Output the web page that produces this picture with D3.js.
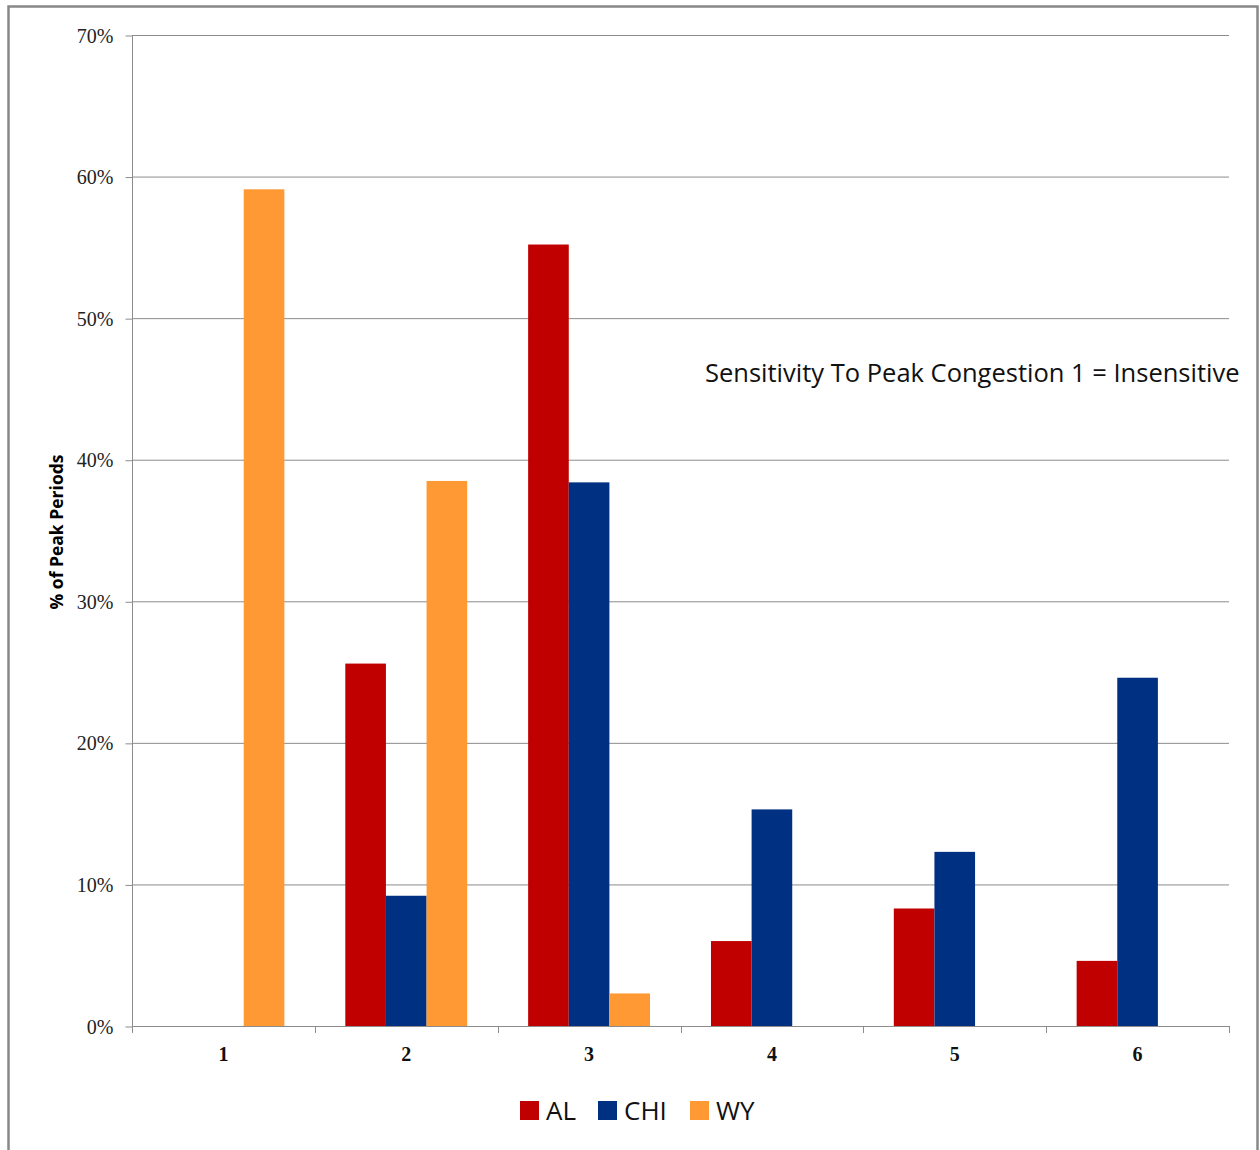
<!DOCTYPE html>
<html>
<head>
<meta charset="utf-8">
<script src="https://cdn.jsdelivr.net/npm/d3@7"></script>
<style>
  html, body { margin: 0; padding: 0; background: #fff; }
  svg { display: block; }
</style>
</head>
<body>
<svg id="chart" width="1260" height="1150"></svg>
<script>
// Sensitivity levels (1 = insensitive) and share of peak periods per region
const categories = ["1", "2", "3", "4", "5", "6"];
const seriesNames = ["AL", "CHI", "WY"];
const alValues  = [0,    25.6, 55.2, 6.0,  8.3,  4.6];
const chiValues = [0,    9.2,  38.4, 15.3, 12.3, 24.6];
const wyValues  = [59.1, 38.5, 2.3,  0,    0,    0];
const yTicks = [0, 10, 20, 30, 40, 50, 60, 70];
const seriesColors = ["#C00000", "#003082", "#FF9933"];

const seriesValues = [alValues, chiValues, wyValues];

const svg = d3.select("#chart");

// Outer frame
svg.append("rect")
  .attr("x", 8.5).attr("y", 6.5)
  .attr("width", 1249).attr("height", 1160)
  .attr("fill", "#fff")
  .attr("stroke", "#888").attr("stroke-width", 2.5);

const plot = { left: 132, right: 1229, top: 35, bottom: 1026 };

const x = d3.scaleBand()
  .domain(categories)
  .range([plot.left, plot.right])
  .paddingInner(0).paddingOuter(0);

const y = d3.scaleLinear()
  .domain([0, 70])
  .range([plot.bottom, plot.top]);

// Horizontal gridlines
svg.append("g")
  .selectAll("line")
  .data(yTicks.filter(t => t > 0))
  .join("line")
  .attr("x1", plot.left).attr("x2", plot.right)
  .attr("y1", d => y(d) + 0.5).attr("y2", d => y(d) + 0.5)
  .attr("stroke", "#8c8c8c").attr("stroke-width", 1);

// Bars: 3 per category, Excel-style 150% gap
const barW = x.bandwidth() / 4.5;
const groups = svg.append("g");
categories.forEach((c, ci) => {
  const center = x(c) + x.bandwidth() / 2;
  seriesValues.forEach((vals, si) => {
    const v = vals[ci];
    if (v <= 0) return;
    groups.append("rect")
      .attr("x", center - 1.5 * barW + si * barW)
      .attr("y", y(v))
      .attr("width", barW)
      .attr("height", y(0) - y(v))
      .attr("fill", seriesColors[si]);
  });
});

// Y axis
const yAxis = d3.axisLeft(y)
  .tickValues(yTicks)
  .tickFormat(d => d + "%")
  .tickSize(7)
  .tickPadding(12);
const gy = svg.append("g")
  .attr("transform", `translate(${plot.left + 0.5},0.5)`)
  .call(yAxis);
gy.select(".domain").attr("stroke", "#8c8c8c").attr("d", `M0,${plot.top}V${plot.bottom}`);
gy.selectAll(".tick line").attr("stroke", "#8c8c8c");
gy.selectAll(".tick text")
  .attr("fill", "#222")
  .style("font-family", "'Liberation Serif', 'DejaVu Serif', serif")
  .style("font-size", "20px")
  .attr("dy", "0.33em");

// X axis baseline with ticks at category boundaries
const gx = svg.append("g");
gx.append("line")
  .attr("x1", plot.left).attr("x2", plot.right)
  .attr("y1", plot.bottom + 0.5).attr("y2", plot.bottom + 0.5)
  .attr("stroke", "#8c8c8c");
const boundaries = categories.map(c => x(c)).concat([plot.right]);
gx.selectAll("line.tk")
  .data(boundaries)
  .join("line")
  .attr("class", "tk")
  .attr("x1", d => Math.round(d) + 0.5).attr("x2", d => Math.round(d) + 0.5)
  .attr("y1", plot.bottom).attr("y2", plot.bottom + 7)
  .attr("stroke", "#8c8c8c");
gx.selectAll("text")
  .data(categories)
  .join("text")
  .attr("x", d => x(d) + x.bandwidth() / 2)
  .attr("y", 1061)
  .attr("text-anchor", "middle")
  .attr("fill", "#111")
  .style("font-family", "'Liberation Serif', 'DejaVu Serif', serif")
  .style("font-weight", "bold")
  .style("font-size", "20px")
  .text(d => d);

// Y axis title
svg.append("text")
  .attr("transform", "translate(63,532) rotate(-90)")
  .attr("text-anchor", "middle")
  .attr("fill", "#000")
  .style("font-family", "'Open Sans', 'Liberation Sans', sans-serif")
  .style("font-weight", "bold")
  .style("font-size", "17.5px")
  .text("% of Peak Periods");

// Annotation
svg.append("text")
  .attr("x", 705).attr("y", 382)
  .attr("fill", "#111")
  .style("font-family", "'Open Sans', 'Liberation Sans', sans-serif")
  .style("font-size", "25.5px")
  .text("Sensitivity To Peak Congestion 1 = Insensitive");

// Legend
const legendX = [520, 598, 690];
const legend = svg.append("g");
seriesNames.forEach((name, i) => {
  legend.append("rect")
    .attr("x", legendX[i]).attr("y", 1101)
    .attr("width", 19).attr("height", 19)
    .attr("fill", seriesColors[i]);
  legend.append("text")
    .attr("x", legendX[i] + 26).attr("y", 1120)
    .attr("fill", "#111")
    .style("font-family", "'Open Sans', 'Liberation Sans', sans-serif")
    .style("font-size", "26px")
    .text(name);
});
</script>
</body>
</html>
